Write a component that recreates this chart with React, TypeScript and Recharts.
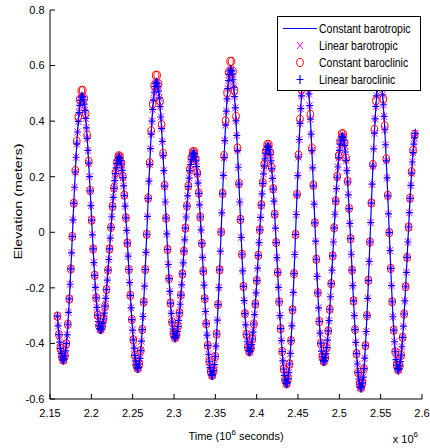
import { ComposedChart, Line, Scatter, XAxis, YAxis, Legend } from "recharts";

// sample times in units of 10^6 s, one sample every 900 s
const TIME = [
  2.159, 2.1599, 2.1608, 2.1617, 2.1626, 2.1635, 2.1644, 2.1653, 2.1662, 2.1671,
  2.168, 2.1689, 2.1698, 2.1707, 2.1716, 2.1725, 2.1734, 2.1743, 2.1752, 2.1761,
  2.177, 2.1779, 2.1788, 2.1797, 2.1806, 2.1815, 2.1824, 2.1833, 2.1842, 2.1851,
  2.186, 2.1869, 2.1878, 2.1887, 2.1896, 2.1905, 2.1914, 2.1923, 2.1932, 2.1941,
  2.195, 2.1959, 2.1968, 2.1977, 2.1986, 2.1995, 2.2004, 2.2013, 2.2022, 2.2031,
  2.204, 2.2049, 2.2058, 2.2067, 2.2076, 2.2085, 2.2094, 2.2103, 2.2112, 2.2121,
  2.213, 2.2139, 2.2148, 2.2157, 2.2166, 2.2175, 2.2184, 2.2193, 2.2202, 2.2211,
  2.222, 2.2229, 2.2238, 2.2247, 2.2256, 2.2265, 2.2274, 2.2283, 2.2292, 2.2301,
  2.231, 2.2319, 2.2328, 2.2337, 2.2346, 2.2355, 2.2364, 2.2373, 2.2382, 2.2391,
  2.24, 2.2409, 2.2418, 2.2427, 2.2436, 2.2445, 2.2454, 2.2463, 2.2472, 2.2481,
  2.249, 2.2499, 2.2508, 2.2517, 2.2526, 2.2535, 2.2544, 2.2553, 2.2562, 2.2571,
  2.258, 2.2589, 2.2598, 2.2607, 2.2616, 2.2625, 2.2634, 2.2643, 2.2652, 2.2661,
  2.267, 2.2679, 2.2688, 2.2697, 2.2706, 2.2715, 2.2724, 2.2733, 2.2742, 2.2751,
  2.276, 2.2769, 2.2778, 2.2787, 2.2796, 2.2805, 2.2814, 2.2823, 2.2832, 2.2841,
  2.285, 2.2859, 2.2868, 2.2877, 2.2886, 2.2895, 2.2904, 2.2913, 2.2922, 2.2931,
  2.294, 2.2949, 2.2958, 2.2967, 2.2976, 2.2985, 2.2994, 2.3003, 2.3012, 2.3021,
  2.303, 2.3039, 2.3048, 2.3057, 2.3066, 2.3075, 2.3084, 2.3093, 2.3102, 2.3111,
  2.312, 2.3129, 2.3138, 2.3147, 2.3156, 2.3165, 2.3174, 2.3183, 2.3192, 2.3201,
  2.321, 2.3219, 2.3228, 2.3237, 2.3246, 2.3255, 2.3264, 2.3273, 2.3282, 2.3291,
  2.33, 2.3309, 2.3318, 2.3327, 2.3336, 2.3345, 2.3354, 2.3363, 2.3372, 2.3381,
  2.339, 2.3399, 2.3408, 2.3417, 2.3426, 2.3435, 2.3444, 2.3453, 2.3462, 2.3471,
  2.348, 2.3489, 2.3498, 2.3507, 2.3516, 2.3525, 2.3534, 2.3543, 2.3552, 2.3561,
  2.357, 2.3579, 2.3588, 2.3597, 2.3606, 2.3615, 2.3624, 2.3633, 2.3642, 2.3651,
  2.366, 2.3669, 2.3678, 2.3687, 2.3696, 2.3705, 2.3714, 2.3723, 2.3732, 2.3741,
  2.375, 2.3759, 2.3768, 2.3777, 2.3786, 2.3795, 2.3804, 2.3813, 2.3822, 2.3831,
  2.384, 2.3849, 2.3858, 2.3867, 2.3876, 2.3885, 2.3894, 2.3903, 2.3912, 2.3921,
  2.393, 2.3939, 2.3948, 2.3957, 2.3966, 2.3975, 2.3984, 2.3993, 2.4002, 2.4011,
  2.402, 2.4029, 2.4038, 2.4047, 2.4056, 2.4065, 2.4074, 2.4083, 2.4092, 2.4101,
  2.411, 2.4119, 2.4128, 2.4137, 2.4146, 2.4155, 2.4164, 2.4173, 2.4182, 2.4191,
  2.42, 2.4209, 2.4218, 2.4227, 2.4236, 2.4245, 2.4254, 2.4263, 2.4272, 2.4281,
  2.429, 2.4299, 2.4308, 2.4317, 2.4326, 2.4335, 2.4344, 2.4353, 2.4362, 2.4371,
  2.438, 2.4389, 2.4398, 2.4407, 2.4416, 2.4425, 2.4434, 2.4443, 2.4452, 2.4461,
  2.447, 2.4479, 2.4488, 2.4497, 2.4506, 2.4515, 2.4524, 2.4533, 2.4542, 2.4551,
  2.456, 2.4569, 2.4578, 2.4587, 2.4596, 2.4605, 2.4614, 2.4623, 2.4632, 2.4641,
  2.465, 2.4659, 2.4668, 2.4677, 2.4686, 2.4695, 2.4704, 2.4713, 2.4722, 2.4731,
  2.474, 2.4749, 2.4758, 2.4767, 2.4776, 2.4785, 2.4794, 2.4803, 2.4812, 2.4821,
  2.483, 2.4839, 2.4848, 2.4857, 2.4866, 2.4875, 2.4884, 2.4893, 2.4902, 2.4911,
  2.492, 2.4929, 2.4938, 2.4947, 2.4956, 2.4965, 2.4974, 2.4983, 2.4992, 2.5001,
  2.501, 2.5019, 2.5028, 2.5037, 2.5046, 2.5055, 2.5064, 2.5073, 2.5082, 2.5091,
  2.51, 2.5109, 2.5118, 2.5127, 2.5136, 2.5145, 2.5154, 2.5163, 2.5172, 2.5181,
  2.519, 2.5199, 2.5208, 2.5217, 2.5226, 2.5235, 2.5244, 2.5253, 2.5262, 2.5271,
  2.528, 2.5289, 2.5298, 2.5307, 2.5316, 2.5325, 2.5334, 2.5343, 2.5352, 2.5361,
  2.537, 2.5379, 2.5388, 2.5397, 2.5406, 2.5415, 2.5424, 2.5433, 2.5442, 2.5451,
  2.546, 2.5469, 2.5478, 2.5487, 2.5496, 2.5505, 2.5514, 2.5523, 2.5532, 2.5541,
  2.555, 2.5559, 2.5568, 2.5577, 2.5586, 2.5595, 2.5604, 2.5613, 2.5622, 2.5631,
  2.564, 2.5649, 2.5658, 2.5667, 2.5676, 2.5685, 2.5694, 2.5703, 2.5712, 2.5721,
  2.573, 2.5739, 2.5748, 2.5757, 2.5766, 2.5775, 2.5784, 2.5793, 2.5802, 2.5811,
  2.582, 2.5829, 2.5838, 2.5847, 2.5856, 2.5865, 2.5874, 2.5883, 2.5892, 2.5901,
  2.591, 2.5919,
];

// constant barotropic elevation (m), one value per TIME sample
const ELEV_CONST_BAROTROPIC = [
  -0.302, -0.337, -0.368, -0.395, -0.418, -0.436, -0.449, -0.457, -0.46, -0.456,
  -0.445, -0.427, -0.401, -0.369, -0.331, -0.288, -0.24, -0.187, -0.132, -0.074,
  -0.015, 0.045, 0.104, 0.162, 0.217, 0.27, 0.318, 0.361, 0.399, 0.431,
  0.457, 0.475, 0.486, 0.49, 0.487, 0.477, 0.461, 0.438, 0.41, 0.376,
  0.338, 0.295, 0.249, 0.2, 0.149, 0.096, 0.044, -0.009, -0.06, -0.109,
  -0.155, -0.198, -0.236, -0.27, -0.298, -0.321, -0.337, -0.347, -0.35, -0.348,
  -0.34, -0.328, -0.312, -0.291, -0.266, -0.238, -0.206, -0.172, -0.136, -0.098,
  -0.06, -0.021, 0.018, 0.056, 0.092, 0.126, 0.158, 0.186, 0.211, 0.232,
  0.248, 0.26, 0.268, 0.27, 0.267, 0.258, 0.243, 0.223, 0.197, 0.167,
  0.132, 0.094, 0.052, 0.007, -0.039, -0.086, -0.134, -0.181, -0.227, -0.272,
  -0.314, -0.352, -0.387, -0.417, -0.443, -0.463, -0.478, -0.487, -0.49, -0.486,
  -0.474, -0.454, -0.426, -0.392, -0.35, -0.303, -0.251, -0.194, -0.134, -0.072,
  -0.007, 0.057, 0.122, 0.184, 0.244, 0.301, 0.353, 0.4, 0.442, 0.476,
  0.504, 0.524, 0.536, 0.54, 0.536, 0.526, 0.508, 0.483, 0.452, 0.415,
  0.373, 0.327, 0.276, 0.222, 0.166, 0.109, 0.051, -0.006, -0.062, -0.116,
  -0.167, -0.213, -0.255, -0.292, -0.323, -0.348, -0.366, -0.376, -0.38, -0.377,
  -0.37, -0.357, -0.339, -0.317, -0.29, -0.259, -0.226, -0.189, -0.15, -0.11,
  -0.068, -0.027, 0.015, 0.055, 0.094, 0.131, 0.164, 0.195, 0.222, 0.244,
  0.262, 0.275, 0.282, 0.285, 0.282, 0.272, 0.257, 0.236, 0.209, 0.177,
  0.14, 0.099, 0.055, 0.009, -0.04, -0.09, -0.14, -0.19, -0.239, -0.285,
  -0.329, -0.37, -0.407, -0.439, -0.466, -0.487, -0.502, -0.512, -0.515, -0.511,
  -0.498, -0.476, -0.447, -0.41, -0.366, -0.316, -0.26, -0.199, -0.135, -0.068,
  0.001, 0.07, 0.138, 0.205, 0.269, 0.33, 0.386, 0.436, 0.48, 0.517,
  0.546, 0.568, 0.581, 0.585, 0.581, 0.569, 0.549, 0.522, 0.488, 0.448,
  0.401, 0.349, 0.294, 0.234, 0.173, 0.109, 0.046, -0.018, -0.079, -0.139,
  -0.195, -0.246, -0.293, -0.333, -0.367, -0.394, -0.414, -0.426, -0.43, -0.427,
  -0.418, -0.404, -0.384, -0.359, -0.33, -0.296, -0.258, -0.218, -0.174, -0.129,
  -0.083, -0.037, 0.009, 0.054, 0.098, 0.138, 0.176, 0.21, 0.239, 0.264,
  0.284, 0.298, 0.307, 0.31, 0.307, 0.297, 0.28, 0.257, 0.228, 0.194,
  0.155, 0.112, 0.065, 0.015, -0.037, -0.091, -0.144, -0.198, -0.25, -0.3,
  -0.347, -0.39, -0.429, -0.463, -0.492, -0.515, -0.532, -0.542, -0.545, -0.541,
  -0.527, -0.505, -0.474, -0.436, -0.39, -0.337, -0.279, -0.216, -0.149, -0.08,
  -0.008, 0.064, 0.135, 0.204, 0.271, 0.334, 0.392, 0.445, 0.491, 0.529,
  0.56, 0.582, 0.596, 0.6, 0.596, 0.583, 0.563, 0.534, 0.498, 0.456,
  0.407, 0.353, 0.294, 0.232, 0.167, 0.101, 0.034, -0.032, -0.097, -0.159,
  -0.218, -0.272, -0.321, -0.363, -0.399, -0.428, -0.448, -0.461, -0.465, -0.462,
  -0.452, -0.437, -0.415, -0.388, -0.355, -0.318, -0.277, -0.232, -0.185, -0.136,
  -0.085, -0.035, 0.016, 0.065, 0.112, 0.157, 0.198, 0.235, 0.268, 0.295,
  0.317, 0.332, 0.342, 0.345, 0.342, 0.331, 0.313, 0.289, 0.259, 0.222,
  0.181, 0.135, 0.085, 0.032, -0.023, -0.079, -0.136, -0.192, -0.247, -0.3,
  -0.35, -0.396, -0.437, -0.474, -0.504, -0.528, -0.546, -0.557, -0.56, -0.556,
  -0.542, -0.521, -0.491, -0.453, -0.408, -0.357, -0.3, -0.238, -0.173, -0.105,
  -0.035, 0.035, 0.105, 0.173, 0.238, 0.3, 0.357, 0.408, 0.453, 0.491,
  0.521, 0.542, 0.556, 0.56, 0.556, 0.543, 0.523, 0.495, 0.459, 0.417,
  0.369, 0.315, 0.257, 0.196, 0.131, 0.066, -0.001, -0.066, -0.13, -0.192,
  -0.25, -0.304, -0.352, -0.394, -0.43, -0.458, -0.478, -0.491, -0.495, -0.492,
  -0.481, -0.465, -0.442, -0.412, -0.378, -0.338, -0.294, -0.247, -0.196, -0.144,
  -0.09, -0.035, 0.019, 0.071, 0.122, 0.169, 0.213, 0.253, 0.287, 0.317,
  0.34, 0.356,
];

// the two linear runs can't be told apart from the constant barotropic one in the plot
const ELEV_LINEAR_BAROTROPIC = ELEV_CONST_BAROTROPIC;
const ELEV_LINEAR_BAROCLINIC = ELEV_CONST_BAROTROPIC;

// constant baroclinic (m), drawn at every second TIME sample; peaks a bit higher
const ELEV_CONST_BAROCLINIC = [
  -0.302, -0.368, -0.418, -0.449, -0.46, -0.445, -0.401, -0.331, -0.24, -0.132,
  -0.015, 0.105, 0.222, 0.328, 0.415, 0.478, 0.51, 0.511, 0.482, 0.427,
  0.349, 0.255, 0.151, 0.044, -0.06, -0.155, -0.236, -0.298, -0.337, -0.35,
  -0.34, -0.312, -0.266, -0.206, -0.136, -0.06, 0.018, 0.093, 0.16, 0.215,
  0.254, 0.275, 0.274, 0.249, 0.201, 0.134, 0.052, -0.039, -0.134, -0.227,
  -0.314, -0.387, -0.443, -0.478, -0.49, -0.474, -0.426, -0.35, -0.251, -0.134,
  -0.007, 0.123, 0.25, 0.365, 0.462, 0.529, 0.565, 0.565, 0.534, 0.472,
  0.387, 0.284, 0.169, 0.051, -0.062, -0.167, -0.255, -0.323, -0.366, -0.38,
  -0.37, -0.339, -0.29, -0.226, -0.15, -0.068, 0.015, 0.095, 0.167, 0.227,
  0.269, 0.29, 0.29, 0.264, 0.213, 0.142, 0.055, -0.04, -0.14, -0.239,
  -0.329, -0.407, -0.466, -0.502, -0.515, -0.498, -0.447, -0.366, -0.26, -0.135,
  0.001, 0.14, 0.276, 0.401, 0.503, 0.576, 0.615, 0.615, 0.579, 0.512,
  0.417, 0.303, 0.176, 0.046, -0.079, -0.195, -0.293, -0.367, -0.414, -0.43,
  -0.418, -0.384, -0.33, -0.258, -0.174, -0.083, 0.009, 0.099, 0.179, 0.245,
  0.292, 0.316, 0.316, 0.288, 0.233, 0.157, 0.065, -0.037, -0.144, -0.25,
  -0.347, -0.429, -0.492, -0.532, -0.545, -0.527, -0.474, -0.39, -0.279, -0.149,
  -0.008, 0.137, 0.278, 0.407, 0.515, 0.591, 0.632, 0.632, 0.595, 0.523,
  0.424, 0.303, 0.17, 0.034, -0.097, -0.218, -0.321, -0.399, -0.448, -0.465,
  -0.452, -0.415, -0.355, -0.277, -0.185, -0.085, 0.016, 0.113, 0.202, 0.275,
  0.327, 0.354, 0.354, 0.323, 0.266, 0.184, 0.086, -0.023, -0.136, -0.247,
  -0.35, -0.437, -0.504, -0.546, -0.56, -0.542, -0.491, -0.408, -0.3, -0.173,
  -0.035, 0.106, 0.244, 0.37, 0.474, 0.548, 0.587, 0.587, 0.55, 0.48,
  0.383, 0.264, 0.133, -0.001, -0.13, -0.25, -0.352, -0.43, -0.478, -0.495,
  -0.481, -0.442, -0.378, -0.294, -0.196, -0.09, 0.019, 0.123, 0.218, 0.295,
  0.352,
];

const SERIES_NAMES = ["Constant barotropic", "Linear barotropic", "Constant baroclinic", "Linear baroclinic"];
const X_TICKS = [2.15, 2.2, 2.25, 2.3, 2.35, 2.4, 2.45, 2.5, 2.55, 2.6];
const Y_TICKS = [-0.6, -0.4, -0.2, 0, 0.2, 0.4, 0.6, 0.8];

const BLUE = "#0000ff";
const MAGENTA = "#ff00ff";
const RED = "#ff0000";
const FONT = '"Liberation Sans", Arial, Helvetica, sans-serif';

const rows = TIME.map((t, i) => ({
  t,
  constBt: ELEV_CONST_BAROTROPIC[i],
  linBt: ELEV_LINEAR_BAROTROPIC[i],
  linBc: ELEV_LINEAR_BAROCLINIC[i],
}));
const circleRows = ELEV_CONST_BAROCLINIC.map((c, i) => ({ t: TIME[i * 2], constBc: c }));

type MarkProps = { cx?: number; cy?: number };

const XMark = ({ cx = 0, cy = 0 }: MarkProps) => (
  <path
    d={`M${cx - 3},${cy - 3.5}L${cx + 3},${cy + 3.5}M${cx - 3},${cy + 3.5}L${cx + 3},${cy - 3.5}`}
    stroke={MAGENTA}
    strokeWidth={1}
    fill="none"
  />
);

const CircleMark = ({ cx = 0, cy = 0 }: MarkProps) => (
  <ellipse cx={cx} cy={cy} rx={3.3} ry={4.1} stroke={RED} strokeWidth={1} fill="none" />
);

const PlusMark = ({ cx = 0, cy = 0 }: MarkProps) => (
  <path
    d={`M${cx - 3.5},${cy}L${cx + 3.5},${cy}M${cx},${cy - 4.5}L${cx},${cy + 4.5}`}
    stroke={BLUE}
    strokeWidth={1.2}
    fill="none"
  />
);

function MatlabLegend() {
  const rowY = [12.5, 29.5, 46.5, 63.5];
  return (
    <svg width={145} height={76} style={{ display: "block" }}>
      <rect x={0.5} y={0.5} width={143} height={74} fill="#fff" stroke="#000" />
      <line x1={6} x2={40} y1={rowY[0]} y2={rowY[0]} stroke={BLUE} strokeWidth={1.2} />
      <XMark cx={23} cy={rowY[1]} />
      <CircleMark cx={23} cy={rowY[2]} />
      <PlusMark cx={23} cy={rowY[3]} />
      {SERIES_NAMES.map((name, i) => (
        <text
          key={name}
          transform={`translate(42,${rowY[i]}) scale(1,1.2)`}
          dy="0.35em"
          fontSize={10.5}
          fill="#000"
          fontFamily={FONT}
        >
          {name}
        </text>
      ))}
    </svg>
  );
}

const renderXLabel = (props: any) => {
  const vb = props.viewBox ?? { x: 50, y: 399, width: 372, height: 49 };
  return (
    <g fill="#000" fontFamily={FONT}>
      <text x={vb.x + vb.width / 2} y={vb.y + 40.5} textAnchor="middle" fontSize={11}>
        Time (10
        <tspan dy={-5} fontSize={8}>6</tspan>
        <tspan dy={5}> seconds)</tspan>
      </text>
      <text x={vb.x + vb.width - 4} y={vb.y + 43.5} textAnchor="end" fontSize={11}>
        x 10
        <tspan dy={-6} fontSize={8}>6</tspan>
      </text>
    </g>
  );
};

const renderYLabel = (props: any) => {
  const vb = props.viewBox ?? { x: 0, y: 10, width: 50, height: 389 };
  const cx = vb.x + 22;
  const cy = vb.y + vb.height / 2 - 3;
  return (
    <text
      transform={`translate(${cx},${cy}) rotate(-90)`}
      textAnchor="middle"
      fontSize={11}
      fill="#000"
      fontFamily={FONT}
      textLength={116}
      lengthAdjust="spacingAndGlyphs"
    >
      Elevation (meters)
    </text>
  );
};

export default function App() {
  return (
    <div style={{ position: "absolute", left: 0, top: 0, fontFamily: FONT, background: "#fff" }}>
      <ComposedChart width={430} height={448} data={rows} margin={{ top: 10, right: 8, bottom: 0, left: 0 }}>
        <XAxis
          type="number"
          dataKey="t"
          domain={[2.15, 2.6]}
          ticks={X_TICKS}
          interval={0}
          allowDataOverflow
          height={49}
          stroke="#000"
          tickSize={-5}
          tickMargin={15}
          tick={{ fill: "#000", fontSize: 11 }}
          tickFormatter={(v: number) => String(v)}
          label={renderXLabel}
        />
        <XAxis
          xAxisId="top"
          orientation="top"
          type="number"
          domain={[2.15, 2.6]}
          ticks={X_TICKS}
          interval={0}
          height={0}
          stroke="#000"
          tickSize={-5}
          tick={false}
        />
        <YAxis
          type="number"
          domain={[-0.6, 0.8]}
          ticks={Y_TICKS}
          interval={0}
          allowDataOverflow
          width={50}
          stroke="#000"
          tickSize={-5}
          tickMargin={10.5}
          tick={{ fill: "#000", fontSize: 11 }}
          tickFormatter={(v: number) => String(v)}
          label={renderYLabel}
        />
        <YAxis
          yAxisId="right"
          orientation="right"
          type="number"
          domain={[-0.6, 0.8]}
          ticks={Y_TICKS}
          interval={0}
          width={0}
          stroke="#000"
          tickSize={-5}
          tick={false}
        />
        <Line
          type="linear"
          dataKey="constBt"
          name={SERIES_NAMES[0]}
          stroke={BLUE}
          strokeWidth={1.2}
          dot={false}
          activeDot={false}
          isAnimationActive={false}
        />
        <Scatter
          data={rows}
          dataKey="linBt"
          name={SERIES_NAMES[1]}
          shape={(p: any) => <XMark cx={p.cx} cy={p.cy} />}
          isAnimationActive={false}
        />
        <Scatter
          data={circleRows}
          dataKey="constBc"
          name={SERIES_NAMES[2]}
          shape={(p: any) => <CircleMark cx={p.cx} cy={p.cy} />}
          isAnimationActive={false}
        />
        <Scatter
          data={rows}
          dataKey="linBc"
          name={SERIES_NAMES[3]}
          shape={(p: any) => <PlusMark cx={p.cx} cy={p.cy} />}
          isAnimationActive={false}
        />
        <Legend
          layout="horizontal"
          verticalAlign="middle"
          align="center"
          content={() => <MatlabLegend />}
          wrapperStyle={{ left: 277, top: 16, width: 145, height: 76 }}
        />
      </ComposedChart>
    </div>
  );
}
